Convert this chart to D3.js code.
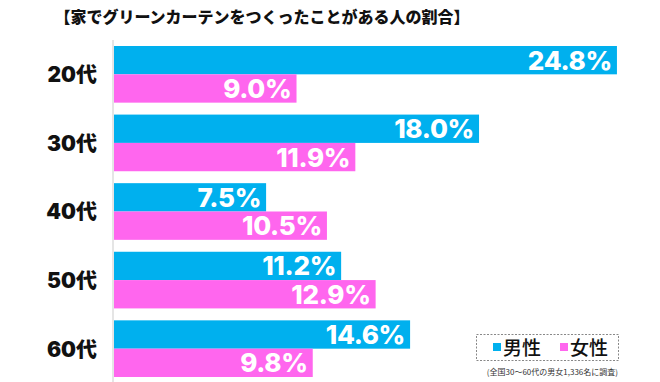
<!DOCTYPE html>
<html><head><meta charset="utf-8">
<script src="https://cdn.jsdelivr.net/npm/d3@7"></script>
<style>html,body{margin:0;padding:0;background:#fff;}svg{display:block;}</style>
</head><body>
<script>
const title = "【家でグリーンカーテンをつくったことがある人の割合】";
const categories = ["20代","30代","40代","50代","60代"];
const seriesNames = ["男性","女性"];
const male = [24.8, 18.0, 7.5, 11.2, 14.6];
const female = [9.0, 11.9, 10.5, 12.9, 9.8];
const note = "(全国30〜60代の男女1,336名に調査)";

const W = 660, H = 382;
const colors = ["#00B0EE", "#FF66EE"];
const svg = d3.select("body").append("svg").attr("width", W).attr("height", H);

const x = d3.scaleLinear().domain([0, 25]).range([114, 621]);
const y = d3.scaleBand().domain(categories).range([46, 377]).paddingInner(12/69).paddingOuter(0);
const sub = d3.scaleBand().domain(seriesNames).range([0, y.bandwidth()]);

svg.append("text").attr("x", 262).attr("y", 23).attr("text-anchor", "middle")
  .attr("font-family", "'Noto Sans CJK JP'").attr("font-weight", 900).attr("font-size", 16)
  .attr("fill", "#111").text(title);

svg.append("line").attr("x1", 113).attr("x2", 113).attr("y1", 40).attr("y2", 382)
  .attr("stroke", "#ddd").attr("stroke-width", 1.5);

const rows = categories.map((c, i) => ({c, vals: [male[i], female[i]]}));
const g = svg.selectAll("g.row").data(rows).join("g").attr("class", "row")
  .attr("transform", d => `translate(0,${y(d.c)})`);

g.selectAll("rect").data(d => d.vals.map((v, j) => ({v, s: seriesNames[j], j}))).join("rect")
  .attr("x", x(0)).attr("y", d => sub(d.s)).attr("width", d => x(d.v) - x(0))
  .attr("height", sub.bandwidth()).attr("fill", d => colors[d.j]);

g.selectAll("text.val").data(d => d.vals.map((v, j) => ({v, s: seriesNames[j], j}))).join("text")
  .attr("class", "val").attr("x", d => x(d.v) - 5).attr("y", d => sub(d.s) + sub.bandwidth()/2 + 9.5)
  .attr("text-anchor", "end").attr("font-family", "Inter").attr("font-weight", 800)
  .attr("font-size", 26).attr("letter-spacing", -0.3).attr("fill", "#fff")
  .text(d => d.v.toFixed(1) + "%");

g.append("text").attr("x", 97).attr("y", y.bandwidth()/2 + 8)
  .attr("text-anchor", "end").attr("font-family", "Inter, 'Noto Sans CJK JP'").attr("font-weight", 900)
  .attr("font-size", 21).attr("fill", "#111").text(d => d.c);

// legend
const lg = svg.append("g");
lg.append("rect").attr("x", 476.5).attr("y", 334.5).attr("width", 142).attr("height", 26)
  .attr("fill", "#fff").attr("stroke", "#888").attr("stroke-dasharray", "2,1.5").attr("stroke-width", 1);
const lx = [493, 560];
seriesNames.forEach((s, i) => {
  lg.append("rect").attr("x", lx[i]).attr("y", 343).attr("width", 8).attr("height", 8).attr("fill", colors[i]);
  lg.append("text").attr("x", lx[i] + 10).attr("y", 354.5).attr("font-family", "'Noto Sans CJK JP'")
    .attr("font-weight", 500).attr("font-size", 19).attr("fill", "#111").text(s);
});
svg.append("text").attr("x", 618).attr("y", 375).attr("text-anchor", "end")
  .attr("font-family", "'Noto Sans CJK JP'").attr("font-size", 8).attr("fill", "#333").text(note);
</script>
</body></html>
